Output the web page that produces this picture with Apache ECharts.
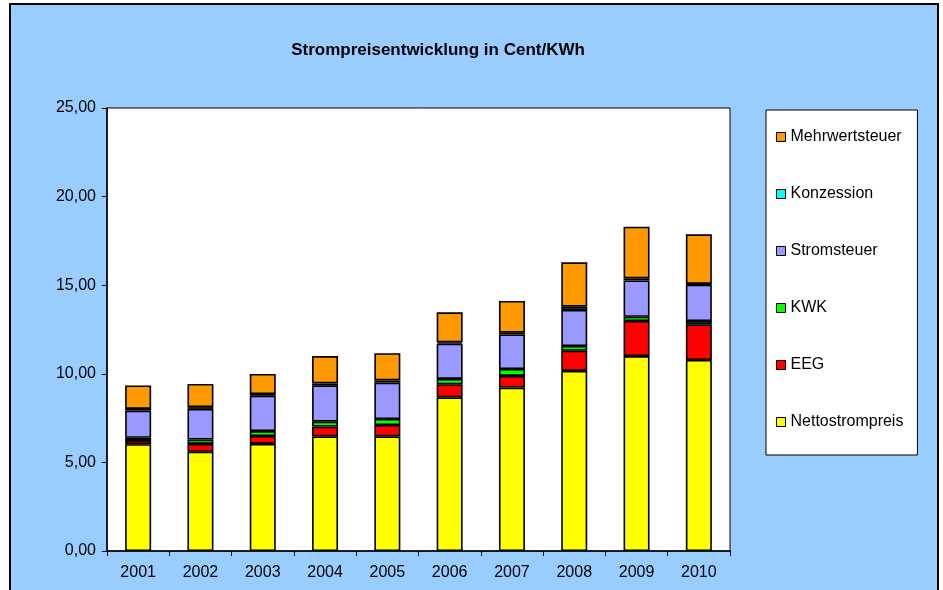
<!DOCTYPE html>
<html>
<head>
<meta charset="utf-8">
<script src="https://cdn.jsdelivr.net/npm/echarts@6/dist/echarts.min.js"></script>
<style>
  html, body { margin: 0; padding: 0; background: #fff; }
  #chart { width: 943px; height: 590px; }
</style>
</head>
<body>
<div id="chart"></div>
<script>
// Werte (Cent/KWh)
const years = ['2001', '2002', '2003', '2004', '2005', '2006', '2007', '2008', '2009', '2010']
const netto = [6.03, 5.60, 6.04, 6.47, 6.47, 8.67, 9.22, 10.16, 11.00, 10.78]
const eeg = [0.23, 0.44, 0.45, 0.55, 0.64, 0.74, 0.66, 1.14, 1.98, 2.01]
const kwk = [0.13, 0.25, 0.28, 0.28, 0.34, 0.30, 0.39, 0.27, 0.24, 0.19]
const stromsteuer = [1.53, 1.73, 1.99, 2.05, 2.05, 1.99, 1.95, 2.03, 2.05, 2.05]
const konzession = [0.10, 0.10, 0.10, 0.11, 0.13, 0.08, 0.10, 0.19, 0.12, 0.04]
const mwst = [1.32, 1.31, 1.13, 1.54, 1.53, 1.69, 1.79, 2.50, 2.91, 2.80]
const yTicks = [0, 5, 10, 15, 20, 25]

const chart = echarts.init(document.getElementById('chart'))

function seg(name, data, color) {
  return {
    name: name,
    type: 'bar',
    stack: 'preis',
    barWidth: 26,
    data: data,
    itemStyle: {
      color: color,
      borderColor: '#000',
      borderWidth: 1.6
    },
    emphasis: { disabled: true }
  }
}

const option = {
  animation: false,
  textStyle: { fontFamily: 'Liberation Sans, Arial, sans-serif' },
  graphic: [
    {
      type: 'rect',
      z: -10,
      shape: { x: 10, y: 4, width: 928, height: 700 },
      style: { fill: '#99CCFF', stroke: '#000', lineWidth: 2 }
    }
  ],
  title: {
    text: 'Strompreisentwicklung in Cent/KWh',
    left: 433,
    top: 37,
    textAlign: 'center',
    textStyle: {
      fontSize: 17,
      fontWeight: 'bold',
      color: '#000',
      fontFamily: 'Liberation Sans, Arial, sans-serif'
    }
  },
  legend: {
    orient: 'vertical',
    left: 766,
    top: 110,
    data: ['Mehrwertsteuer', 'Konzession', 'Stromsteuer', 'KWK', 'EEG', 'Nettostrompreis'],
    backgroundColor: '#fff',
    borderColor: '#000',
    borderWidth: 1,
    padding: [19, 14, 25, 10],
    itemWidth: 9,
    itemHeight: 9,
    itemGap: 41,
    icon: 'rect',
    itemStyle: { borderColor: '#000', borderWidth: 1 },
    textStyle: { fontSize: 16, color: '#000' },
    selectedMode: false
  },
  grid: {
    left: 107,
    right: 213,
    top: 108,
    bottom: 39,
    show: true,
    backgroundColor: '#fff',
    borderColor: '#000',
    borderWidth: 1
  },
  xAxis: {
    type: 'category',
    data: years,
    axisLine: { lineStyle: { color: '#000', width: 1.5 } },
    axisTick: { show: true, length: 5, inside: false, lineStyle: { color: '#000' } },
    axisLabel: { color: '#000', fontSize: 16, margin: 14 }
  },
  yAxis: {
    type: 'value',
    min: yTicks[0],
    max: yTicks[yTicks.length - 1],
    interval: 5,
    axisLine: { show: true, lineStyle: { color: '#000', width: 1.5 } },
    axisTick: { show: true, length: 5, lineStyle: { color: '#000' } },
    splitLine: { show: false },
    axisLabel: {
      color: '#000',
      fontSize: 16,
      margin: 11,
      formatter: function (v) { return v.toFixed(2).replace('.', ',') }
    }
  },
  series: [
    seg('Nettostrompreis', netto, '#FFFF00'),
    seg('EEG', eeg, '#FF0000'),
    seg('KWK', kwk, '#00FF00'),
    seg('Stromsteuer', stromsteuer, '#9999FF'),
    seg('Konzession', konzession, '#00FFFF'),
    seg('Mehrwertsteuer', mwst, '#FF9900')
  ]
}

chart.setOption(option)
</script>
</body>
</html>
